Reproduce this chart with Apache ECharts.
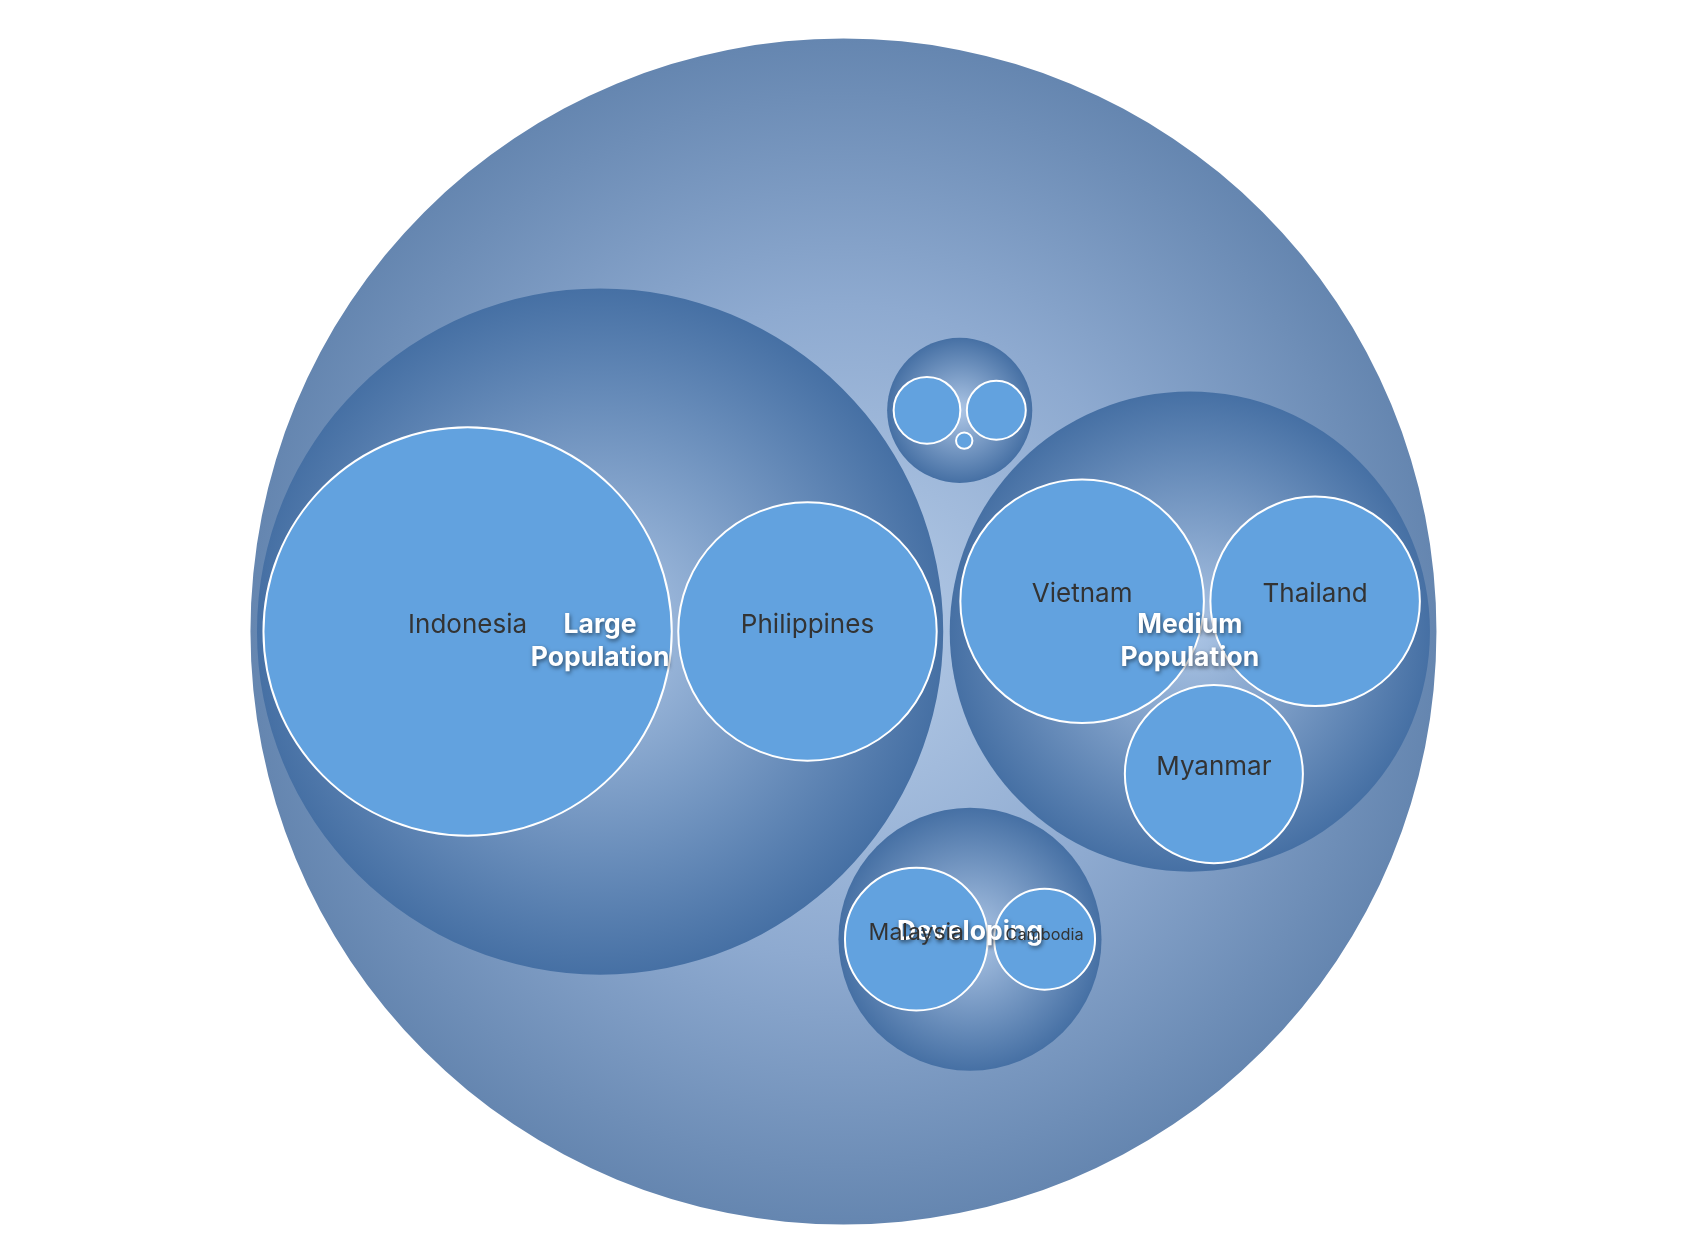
<!DOCTYPE html>
<html>
<head>
<meta charset="utf-8">
<script src="https://cdn.jsdelivr.net/npm/echarts@6/dist/echarts.min.js"></script>
<style>
html,body{margin:0;padding:0;background:#ffffff;}
#main{width:1692px;height:1258px;}
</style>
</head>
<body>
<div id="main"></div>
<script>
// ---------------- data ----------------
const rootName = 'ASEAN';
const groupNames = ['Large Population', 'Medium Population', 'Developing', 'Small Population'];
const groupLabels = ['Large\nPopulation', 'Medium\nPopulation', 'Developing', 'Small'];
const countries = ['Indonesia', 'Philippines', 'Vietnam', 'Thailand', 'Myanmar', 'Malaysia', 'Cambodia', 'Laos', 'Singapore', 'Brunei'];
const countryGroup = [0, 0, 1, 1, 1, 2, 2, 3, 3, 3];
const population = [273.5, 109.6, 97.3, 72.0, 52.0, 33.4, 16.7, 7.3, 5.7, 0.44]; // millions

// ---------------- layout params (style) ----------------
const LAYOUT = { cxRatio: 0.4985, cyRatio: 0.502, radius: 593, padding: 6.5 };

// ---------------- hierarchy ----------------
function buildTree() {
  const root = { name: rootName, label: '', depth: 0, children: [] };
  groupNames.forEach((g, i) => root.children.push({ name: g, label: groupLabels[i], depth: 1, children: [], parent: root }));
  countries.forEach((c, i) => {
    const g = root.children[countryGroup[i]];
    g.children.push({ name: c, label: c, depth: 2, value: population[i], parent: g });
  });
  (function sum(n) {
    if (n.children) {
      n.value = n.children.reduce((s, c) => s + sum(c), 0);
      n.children.sort((a, b) => b.value - a.value);
    }
    return n.value;
  })(root);
  return root;
}

// ---------------- circle packing (front-chain, as in d3-hierarchy) ----------------
function place(b, a, c) {
  let dx = b.x - a.x, x, a2, dy = b.y - a.y, y, b2, d2 = dx * dx + dy * dy;
  if (d2) {
    a2 = a.r + c.r; a2 *= a2;
    b2 = b.r + c.r; b2 *= b2;
    if (a2 > b2) {
      x = (d2 + b2 - a2) / (2 * d2);
      y = Math.sqrt(Math.max(0, b2 / d2 - x * x));
      c.x = b.x - x * dx - y * dy;
      c.y = b.y - x * dy + y * dx;
    } else {
      x = (d2 + a2 - b2) / (2 * d2);
      y = Math.sqrt(Math.max(0, a2 / d2 - x * x));
      c.x = a.x + x * dx - y * dy;
      c.y = a.y + x * dy + y * dx;
    }
  } else {
    c.x = a.x + c.r;
    c.y = a.y;
  }
}
function intersects(a, b) {
  const dr = a.r + b.r - 1e-6, dx = b.x - a.x, dy = b.y - a.y;
  return dr > 0 && dr * dr > dx * dx + dy * dy;
}
function score(node) {
  const a = node._, b = node.next._, ab = a.r + b.r,
    dx = (a.x * b.r + b.x * a.r) / ab, dy = (a.y * b.r + b.y * a.r) / ab;
  return dx * dx + dy * dy;
}
function CNode(circle) { this._ = circle; this.next = null; this.previous = null; }

function basis2(a, b) {
  const x21 = b.x - a.x, y21 = b.y - a.y, r21 = b.r - a.r, l = Math.sqrt(x21 * x21 + y21 * y21);
  if (!l) return null;
  return { x: (a.x + b.x + x21 / l * r21) / 2, y: (a.y + b.y + y21 / l * r21) / 2, r: (l + a.r + b.r) / 2 };
}
function basis3(a, b, c) {
  const x1 = a.x, y1 = a.y, r1 = a.r, x2 = b.x, y2 = b.y, r2 = b.r, x3 = c.x, y3 = c.y, r3 = c.r,
    a2 = x1 - x2, a3 = x1 - x3, b2 = y1 - y2, b3 = y1 - y3, c2 = r2 - r1, c3 = r3 - r1,
    d1 = x1 * x1 + y1 * y1 - r1 * r1,
    d2 = d1 - x2 * x2 - y2 * y2 + r2 * r2,
    d3 = d1 - x3 * x3 - y3 * y3 + r3 * r3,
    ab = a3 * b2 - a2 * b3;
  if (!ab) return null;
  const xa = (b2 * d3 - b3 * d2) / (ab * 2) - x1,
    xb = (b3 * c2 - b2 * c3) / ab,
    ya = (a3 * d2 - a2 * d3) / (ab * 2) - y1,
    yb = (a2 * c3 - a3 * c2) / ab,
    A = xb * xb + yb * yb - 1,
    B = 2 * (r1 + xa * xb + ya * yb),
    C = xa * xa + ya * ya - r1 * r1,
    r = -(Math.abs(A) > 1e-6 ? (B + Math.sqrt(B * B - 4 * A * C)) / (2 * A) : C / B);
  return { x: x1 + xa + xb * r, y: y1 + ya + yb * r, r: r };
}
function enclosesCircle(c, b) {
  const dx = b.x - c.x, dy = b.y - c.y;
  return Math.sqrt(dx * dx + dy * dy) + b.r <= c.r + 1e-5 * Math.max(c.r, 1);
}
function enclose(L) {
  let best = null;
  const consider = (c) => {
    if (!c || !isFinite(c.r) || !isFinite(c.x) || !isFinite(c.y) || c.r <= 0) return;
    if (best && c.r >= best.r) return;
    if (L.every(b => enclosesCircle(c, b))) best = c;
  };
  for (let i = 0; i < L.length; i++) consider({ x: L[i].x, y: L[i].y, r: L[i].r });
  for (let i = 0; i < L.length; i++) for (let j = i + 1; j < L.length; j++) consider(basis2(L[i], L[j]));
  for (let i = 0; i < L.length; i++) for (let j = i + 1; j < L.length; j++) for (let k = j + 1; k < L.length; k++) consider(basis3(L[i], L[j], L[k]));
  return best;
}
function packSiblings(circles) {
  const n = circles.length;
  if (!n) return 0;
  let a, b, c, aa, ca, i, j, k, sj, sk;
  a = circles[0]; a.x = 0; a.y = 0;
  if (!(n > 1)) return a.r;
  b = circles[1]; a.x = -b.r; b.x = a.r; b.y = 0;
  if (!(n > 2)) return a.r + b.r;
  place(b, a, c = circles[2]);
  a = new CNode(a); b = new CNode(b); c = new CNode(c);
  a.next = c.previous = b;
  b.next = a.previous = c;
  c.next = b.previous = a;
  pack: for (i = 3; i < n; ++i) {
    place(a._, b._, c = circles[i]); c = new CNode(c);
    j = b.next; k = a.previous; sj = b._.r; sk = a._.r;
    do {
      if (sj <= sk) {
        if (intersects(j._, c._)) { b = j; a.next = b; b.previous = a; --i; continue pack; }
        sj += j._.r; j = j.next;
      } else {
        if (intersects(k._, c._)) { a = k; a.next = b; b.previous = a; --i; continue pack; }
        sk += k._.r; k = k.previous;
      }
    } while (j !== k.next);
    c.previous = a; c.next = b; a.next = b.previous = b = c;
    aa = score(a);
    while ((c = c.next) !== b) { if ((ca = score(c)) < aa) { a = c; aa = ca; } }
    b = a.next;
  }
  const chain = [b._]; c = b;
  while ((c = c.next) !== b) chain.push(c._);
  const e = enclose(chain);
  for (i = 0; i < n; ++i) { circles[i].x -= e.x; circles[i].y -= e.y; }
  return e.r;
}
function packTree(root, s, pad) {
  (function rec(n) {
    if (!n.children) { n.r = s * Math.sqrt(n.value); return; }
    n.children.forEach(rec);
    const h = pad / 2;
    n.children.forEach(ch => ch.r += h);
    const e = packSiblings(n.children);
    n.children.forEach(ch => ch.r -= h);
    n.r = e + h;
  })(root);
  return root.r;
}
function layoutTree(root, cx, cy, R, pad) {
  let s0 = R / (2 * Math.sqrt(root.value)), f0 = packTree(root, s0, pad) - R;
  let s1 = s0 * 1.2, f1 = packTree(root, s1, pad) - R;
  for (let it = 0; it < 60 && Math.abs(f1) > 1e-7; it++) {
    const s2 = s1 - f1 * (s1 - s0) / (f1 - f0);
    s0 = s1; f0 = f1; s1 = s2; f1 = packTree(root, s1, pad) - R;
  }
  root.x = 0; root.y = 0;
  (function abs(n, px, py) {
    n.ax = px + n.x; n.ay = py + n.y;
    if (n.children) n.children.forEach(ch => abs(ch, n.ax, n.ay));
  })(root, cx, cy);
}

// ---------------- chart ----------------
const tree = buildTree();
const nodes = [];
(function flat(n) { nodes.push(n); if (n.children) n.children.forEach(flat); })(tree);

const chart = echarts.init(document.getElementById('main'), null, { renderer: 'canvas' });
const W = chart.getWidth(), H = chart.getHeight();
layoutTree(tree, W * LAYOUT.cxRatio, H * LAYOUT.cyRatio, LAYOUT.radius, LAYOUT.padding);

const rootFill = new echarts.graphic.RadialGradient(0.5, 0.5, 0.5, [
  { offset: 0, color: '#b6cce8' },
  { offset: 0.55, color: '#8eaad0' },
  { offset: 1, color: '#6586b0' }
]);
const groupFill = new echarts.graphic.RadialGradient(0.5, 0.5, 0.5, [
  { offset: 0, color: '#adc6e6' },
  { offset: 1, color: '#4670a4' }
]);

function renderItem(params, api) {
  const n = nodes[params.dataIndex];
  const children = [];
  let style;
  if (n.depth === 0) style = { fill: rootFill };
  else if (n.depth === 1) style = { fill: groupFill };
  else style = { fill: '#62a2df', stroke: '#ffffff', lineWidth: 2 };
  children.push({ type: 'circle', shape: { cx: n.ax, cy: n.ay, r: n.r }, style: style, z2: n.depth });

  if (n.depth === 2 && n.r > 40) {
    const fs = Math.min(26, n.r / 3.1);
    children.push({
      type: 'text', z2: 11,
      style: {
        text: n.label, x: n.ax, y: n.ay - fs * 0.26,
        align: 'center', verticalAlign: 'middle',
        font: fs + 'px Inter, "Noto Sans", sans-serif', fill: '#333333'
      }
    });
  } else if (n.depth === 1 && n.r > 100) {
    const fs = 26.5, lh = 33.5;
    const lines = n.label.split('\n').length;
    children.push({
      type: 'text', z2: 10,
      style: {
        text: n.label, x: n.ax, y: n.ay - fs * 0.26 + (lines - 1) * lh / 2,
        align: 'center', verticalAlign: 'middle', lineHeight: lh,
        font: 'bold ' + fs + 'px Inter, "Noto Sans", sans-serif', fill: '#ffffff',
        textShadowColor: 'rgba(0,0,0,0.55)', textShadowBlur: 4,
        textShadowOffsetX: 1, textShadowOffsetY: 2
      }
    });
  }
  return { type: 'group', children: children };
}

chart.setOption({
  backgroundColor: '#ffffff',
  animation: false,
  series: [{
    type: 'custom',
    coordinateSystem: 'none',
    renderItem: renderItem,
    data: nodes.map((n, i) => ({ name: n.name, value: [n.value, n.depth] }))
  }]
});
</script>
</body>
</html>
